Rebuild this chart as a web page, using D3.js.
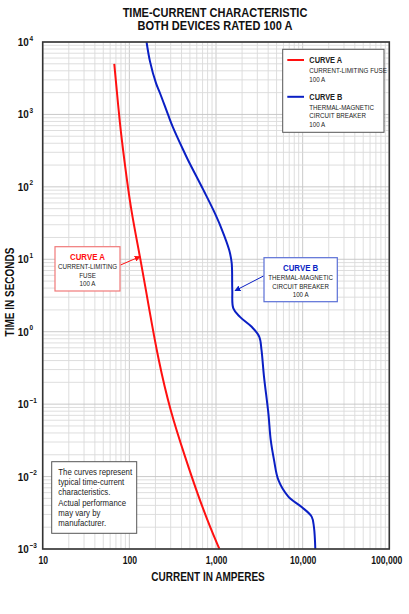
<!DOCTYPE html>
<html>
<head>
<meta charset="utf-8">
<script src="https://cdn.jsdelivr.net/npm/d3@7"></script>
<style>
  html, body { margin: 0; padding: 0; background: #fff; }
  svg { display: block; }
  text { font-family: "Liberation Sans Narrow", "Arial Narrow", "Liberation Sans", Arial, sans-serif; }
</style>
</head>
<body>
<div id="chart"></div>
<script>
// curve A: current-limiting fuse (amperes, seconds)
var fuseCurrent = [67, 78, 87, 104, 133, 170, 216, 294, 451, 608, 853, 1095];
var fuseTime    = [5000, 700, 247, 48, 10.9, 2.0, 0.41, 0.083, 0.017, 0.0059, 0.002, 0.001];

// curve B: thermal-magnetic circuit breaker
var breakerCurrent = [158, 173, 203, 226, 279, 316, 420, 475, 717, 931, 1150, 1420, 1517, 1541, 1585,
    1890, 2580, 3160, 3350, 3580, 4020, 4280, 4670, 5240, 6830, 9740, 12700, 13500, 14000];
var breakerTime    = [10000, 5400, 2700, 1960, 1000, 680, 320, 235, 90, 48, 27, 13.4, 8.9, 3.8, 2.1,
    1.6, 1.17, 0.85, 0.56, 0.24, 0.075, 0.032, 0.017, 0.009, 0.0053, 0.0038, 0.0028, 0.002, 0.001];

var xTicks = [10, 100, 1000, 10000, 100000];
var xTickLabels = ["10", "100", "1,000", "10,000", "100,000"];
var yTicks = [1e4, 1e3, 1e2, 1e1, 1e0, 1e-1, 1e-2, 1e-3];
var yTickExp = ["4", "3", "2", "1", "0", "\u22121", "\u22122", "\u22123"];

// where the arrows point on each curve
var fuseArrowAt = [133, 10.9];
var breakerArrowAt = [1656, 3.68];

var titleLines = ["TIME-CURRENT CHARACTERISTIC", "BOTH DEVICES RATED 100 A"];
var noteLines = ["The curves represent", "typical time-current", "characteristics.",
    "Actual performance", "may vary by", "manufacturer."];

var red = "#ff1010", blue = "#0a1fc4";

var width = 409, height = 614;
var plot = {left: 42.7, right: 389.3, top: 42, bottom: 549};

var svg = d3.select("#chart").append("svg")
    .attr("width", width)
    .attr("height", height);

var x = d3.scaleLog().domain([10, 1e5]).range([plot.left, plot.right]);
var y = d3.scaleLog().domain([1e-3, 1e4]).range([plot.bottom, plot.top]);

// no narrow font installed, so squeeze the text to look like one
function condense(sel, k) {
    sel.each(function() {
        var w = this.getComputedTextLength();
        d3.select(this).attr("textLength", w * k).attr("lengthAdjust", "spacingAndGlyphs");
    });
}
var K = 0.82;

// grid: every 1..9 inside each decade
function logLines(lo, hi) {
    var out = [];
    for (var p = lo; p < hi; p++) {
        for (var m = 1; m < 10; m++) out.push({v: m * Math.pow(10, p), major: m === 1});
    }
    out.push({v: Math.pow(10, hi), major: true});
    return out;
}

var grid = svg.append("g").attr("id", "g-grid");
grid.selectAll(".vgrid").data(logLines(1, 5)).enter().append("line")
    .attr("class", "vgrid")
    .attr("x1", d => x(d.v)).attr("x2", d => x(d.v))
    .attr("y1", plot.top).attr("y2", plot.bottom)
    .attr("stroke", d => d.major ? "#c4c4c4" : "#dadada")
    .attr("stroke-width", 0.9);
grid.selectAll(".hgrid").data(logLines(-3, 4)).enter().append("line")
    .attr("class", "hgrid")
    .attr("y1", d => y(d.v)).attr("y2", d => y(d.v))
    .attr("x1", plot.left).attr("x2", plot.right)
    .attr("stroke", d => d.major ? "#c4c4c4" : "#dadada")
    .attr("stroke-width", 0.9);

// curves: the fuse is a smooth sweep, the breaker keeps its knees
var fuseLine = d3.line()
    .x(d => x(d[0]))
    .y(d => y(d[1]))
    .curve(d3.curveBasis);
var breakerLine = d3.line()
    .x(d => x(d[0]))
    .y(d => y(d[1]))
    .curve(d3.curveCatmullRom.alpha(0.5));

svg.append("path")
    .datum(d3.zip(fuseCurrent, fuseTime))
    .attr("d", fuseLine)
    .attr("fill", "none")
    .attr("stroke", red)
    .attr("stroke-width", 2);

svg.append("path")
    .datum(d3.zip(breakerCurrent, breakerTime))
    .attr("d", breakerLine)
    .attr("fill", "none")
    .attr("stroke", blue)
    .attr("stroke-width", 2);

// frame
svg.append("rect")
    .attr("x", plot.left).attr("y", plot.top)
    .attr("width", plot.right - plot.left)
    .attr("height", plot.bottom - plot.top)
    .attr("fill", "none")
    .attr("stroke", "#333")
    .attr("stroke-width", 1.6);

// x axis labels
var xAxis = d3.axisBottom(x)
    .tickValues(xTicks)
    .tickFormat((d, i) => xTickLabels[i])
    .tickSize(0)
    .tickPadding(8);
var gx = svg.append("g")
    .attr("transform", "translate(0," + plot.bottom + ")")
    .call(xAxis);
gx.select(".domain").remove();
gx.selectAll("text")
    .attr("font-family", null)
    .attr("font-size", 10.5)
    .attr("font-weight", "bold")
    .attr("fill", "#111")
    .attr("dx", (d, i) => i === xTicks.length - 1 ? -3 : 0)
    .call(condense, K);

// y axis labels: base "10" plus a raised exponent
var gy = svg.append("g");
var yt = gy.selectAll(".ytick").data(yTicks).enter().append("g")
    .attr("class", "ytick")
    .attr("transform", d => "translate(0," + y(d) + ")");
yt.append("text")
    .attr("x", 28.8).attr("y", 4)
    .attr("text-anchor", "end")
    .attr("font-size", 11.5).attr("font-weight", "bold").attr("fill", "#111")
    .text("10")
    .call(condense, 0.86);
yt.append("text")
    .attr("x", 29.4).attr("y", -1.5)
    .attr("font-size", 7.5).attr("font-weight", "bold").attr("fill", "#111")
    .text((d, i) => yTickExp[i])
    .call(condense, 0.86);

// axis titles
svg.append("text")
    .attr("x", 208).attr("y", 581)
    .attr("text-anchor", "middle")
    .attr("font-size", 12.2).attr("font-weight", "bold").attr("fill", "#111")
    .text("CURRENT IN AMPERES")
    .call(condense, K);
svg.append("text")
    .attr("transform", "translate(13.5,292) rotate(-90)")
    .attr("text-anchor", "middle")
    .attr("font-size", 12.2).attr("font-weight", "bold").attr("fill", "#111")
    .text("TIME IN SECONDS")
    .call(condense, K);

// title
svg.selectAll(".title").data(titleLines).enter().append("text")
    .attr("class", "title")
    .attr("x", 215).attr("y", (d, i) => 16.5 + i * 13.5)
    .attr("text-anchor", "middle")
    .attr("font-size", 13.2).attr("font-weight", "bold").attr("fill", "#111")
    .text(d => d)
    .call(condense, 0.835);

// legend
var legend = svg.append("g");
legend.append("rect")
    .attr("x", 282.7).attr("y", 49.3).attr("width", 101.3).attr("height", 83)
    .attr("fill", "#fff").attr("stroke", "#555").attr("stroke-width", 1);
var legendItems = [
    {color: red, name: "CURVE A", lines: ["CURRENT-LIMITING FUSE", "100 A"], y: 60},
    {color: blue, name: "CURVE B", lines: ["THERMAL-MAGNETIC", "CIRCUIT BREAKER", "100 A"], y: 96.8}
];
var li = legend.selectAll(".item").data(legendItems).enter().append("g").attr("class", "item");
li.append("line")
    .attr("x1", 287.3).attr("x2", 304)
    .attr("y1", d => d.y).attr("y2", d => d.y)
    .attr("stroke", d => d.color).attr("stroke-width", 2);
li.append("text")
    .attr("x", 309.3).attr("y", d => d.y + 3.2)
    .attr("font-size", 9).attr("font-weight", "bold").attr("fill", "#222")
    .text(d => d.name)
    .call(condense, K);
li.selectAll(".sub").data(d => d.lines.map((t, i) => ({t: t, y: d.y + 12.8 + i * 8.7})))
    .enter().append("text")
    .attr("x", 309.3).attr("y", d => d.y)
    .attr("font-size", 7.6).attr("fill", "#222")
    .text(d => d.t)
    .call(condense, K);

// arrow heads
var defs = svg.append("defs");
[["ahRed", red], ["ahBlue", blue]].forEach(function(m) {
    defs.append("marker")
        .attr("id", m[0])
        .attr("viewBox", "0 0 10 10")
        .attr("refX", 9).attr("refY", 5)
        .attr("markerWidth", 6).attr("markerHeight", 6)
        .attr("markerUnits", "userSpaceOnUse")
        .attr("orient", "auto")
        .append("path").attr("d", "M0,0 L10,5 L0,10 z").attr("fill", m[1]);
});

// callout boxes
var callouts = [
    {box: [55, 246.7, 65, 44.3], color: red, border: "#f07a7a", name: "CURVE A",
     lines: ["CURRENT-LIMITING", "FUSE", "100 A"], tail: [120.5, 265], tip: fuseArrowAt, marker: "ahRed"},
    {box: [264, 257.7, 73.3, 44], color: blue, border: "#5a6fd6", name: "CURVE B",
     lines: ["THERMAL-MAGNETIC", "CIRCUIT BREAKER", "100 A"], tail: [263.5, 276], tip: breakerArrowAt, marker: "ahBlue"}
];
var co = svg.selectAll(".callout").data(callouts).enter().append("g").attr("class", "callout");
co.append("line")
    .attr("x1", d => d.tail[0]).attr("y1", d => d.tail[1])
    .attr("x2", d => x(d.tip[0])).attr("y2", d => y(d.tip[1]))
    .attr("stroke", d => d.color).attr("stroke-width", 1)
    .attr("marker-end", d => "url(#" + d.marker + ")");
co.append("rect")
    .attr("x", d => d.box[0]).attr("y", d => d.box[1])
    .attr("width", d => d.box[2]).attr("height", d => d.box[3])
    .attr("fill", "#fff").attr("stroke", d => d.border).attr("stroke-width", 1.2);
co.append("text")
    .attr("x", d => d.box[0] + d.box[2] / 2).attr("y", d => d.box[1] + 13)
    .attr("text-anchor", "middle")
    .attr("font-size", 9.6).attr("font-weight", "bold").attr("fill", d => d.color)
    .text(d => d.name)
    .call(condense, K);
co.selectAll(".sub").data(d => d.lines.map((t, i) => ({t: t, cx: d.box[0] + d.box[2] / 2, y: d.box[1] + 22.5 + i * 8.5})))
    .enter().append("text")
    .attr("x", d => d.cx).attr("y", d => d.y)
    .attr("text-anchor", "middle")
    .attr("font-size", 7.6).attr("fill", "#222")
    .text(d => d.t)
    .call(condense, K);

// note box
var note = svg.append("g");
note.append("rect")
    .attr("x", 51.7).attr("y", 461.7).attr("width", 85).attr("height", 71.6)
    .attr("fill", "#fff").attr("stroke", "#555").attr("stroke-width", 1);
note.selectAll("text").data(noteLines).enter().append("text")
    .attr("x", 58.3).attr("y", (d, i) => 474.8 + i * 10.3)
    .attr("font-size", 9.3).attr("fill", "#222")
    .text(d => d)
    .call(condense, 0.84);
</script>
</body>
</html>
